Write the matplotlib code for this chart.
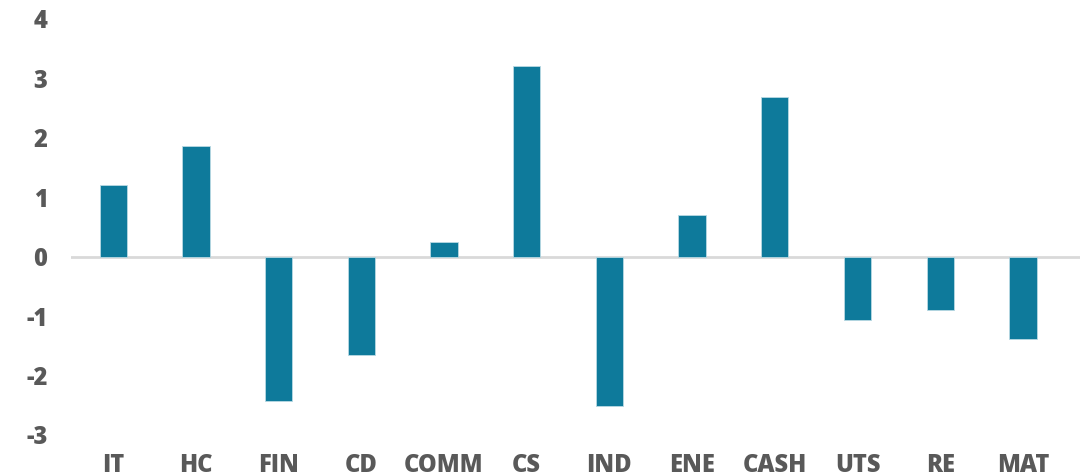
import matplotlib.pyplot as plt
from matplotlib import font_manager
import numpy as np

sectors = ["IT", "HC", "FIN", "CD", "COMM", "CS", "IND", "ENE", "CASH", "UTS", "RE", "MAT"]
values = [1.21, 1.87, -2.42, -1.65, 0.25, 3.21, -2.52, 0.71, 2.69, -1.06, -0.89, -1.38]
y_ticks = [-3, -2, -1, 0, 1, 2, 3, 4]

BAR_COLOR = "#0e7a9b"
TEXT_COLOR = "#595959"


def find_font(filename):
    for f in font_manager.fontManager.ttflist:
        if f.fname.endswith(filename):
            return f.fname
    return None


heavy_path = find_font("OpenSans-ExtraBold.ttf") or find_font("OpenSans-Bold.ttf")
if heavy_path:
    label_prop = font_manager.FontProperties(fname=heavy_path, size=17)
else:
    label_prop = font_manager.FontProperties(family="DejaVu Sans", weight="bold", size=16)

fig = plt.figure(figsize=(10.82, 4.76), dpi=100)
ax = fig.add_axes([71 / 1082, 41 / 476, 1009 / 1082, 416 / 476])

x = np.arange(len(sectors))
ax.bar(x, values, width=0.33, color=BAR_COLOR, edgecolor="#b9d9e3", linewidth=0.6, zorder=2)
ax.axhline(0, color="#d9d9d9", linewidth=2, zorder=1)

ax.set_xlim(-0.51, 11.69)
ax.set_ylim(-3, 4)

ax.set_yticks(y_ticks)
ax.set_yticklabels([str(t) for t in y_ticks], fontproperties=label_prop, color=TEXT_COLOR)
ax.set_xticks(x)
ax.set_xticklabels(sectors, fontproperties=label_prop, color=TEXT_COLOR)

for spine in ax.spines.values():
    spine.set_visible(False)
ax.tick_params(axis="both", length=0)
ax.tick_params(axis="y", pad=17)
ax.tick_params(axis="x", pad=13)

fig.savefig("out.png", dpi=100, facecolor="white")
